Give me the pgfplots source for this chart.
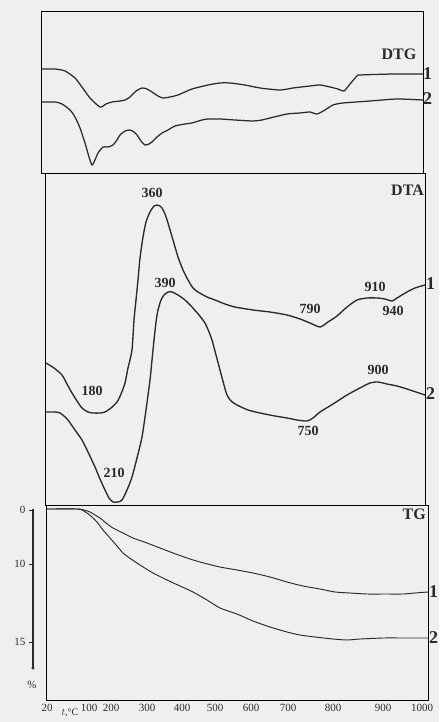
\documentclass[border=0pt]{standalone}
\usepackage{fontspec}
\setmainfont{Liberation Serif}
\usepackage{pgfplots}
\pgfplotsset{compat=1.18}
\definecolor{bg}{HTML}{EFEFEF}
\definecolor{ink}{HTML}{2A2A2A}
\pgfplotsset{
  panel/.style={x=1pt, y=1pt, ticks=none, clip=false, anchor=south west,
    axis line style={line width=0.9pt, black}},
  curve/.style={ink, line width=1.25pt, smooth, tension=0.4, mark=none},
}
\tikzset{
  pk/.style={font=\bfseries\fontsize{14}{15}\selectfont, inner sep=0pt, text=ink},
  ttl/.style={font=\bfseries\fontsize{16}{17}\selectfont, inner sep=0pt, text=ink},
  cn/.style={font=\bfseries\fontsize{18}{19}\selectfont, inner sep=0pt, anchor=west, text=ink},
}
\begin{document}
\begin{tikzpicture}
\useasboundingbox (0,0) rectangle (439pt,-722pt);
\fill[bg] (0,0) rectangle (439pt,-722pt);

% ---------------- DTG ----------------
\begin{axis}[panel, xmin=41, xmax=423, ymin=-173, ymax=-11, at={(41pt,-173pt)}]
\addplot[curve] coordinates {(42,-69)(55,-69)(65,-71)(75,-78)(82,-87)(90,-98)(100,-107)(106,-104)(112,-102)(120,-101)(125,-100)(130,-97)(136,-91)(142,-88)(147,-89)(152,-92)(158,-96)(163,-98)(170,-97)(178,-95)(192,-89)(208,-85)(220,-83)(230,-83)(245,-85)(260,-88)(280,-90)(293,-88)(310,-86)(320,-85)(330,-87)(338,-89)(344,-91)(350,-84)(357,-76)(360,-75)(393,-74)(423,-74)};
\addplot[curve] coordinates {(42,-102)(55,-102)(62,-104)(70,-110)(75,-117)(80,-128)(85,-143)(89,-157)(92,-165)(95,-160)(98,-153)(103,-147)(108,-147)(113,-145)(117,-140)(120,-135)(125,-131)(130,-130)(134,-132)(137,-135)(141,-141)(145,-145)(149,-144)(152,-142)(157,-137)(162,-133)(168,-130)(175,-126)(185,-124)(192,-123)(202,-120)(208,-119)(220,-119)(235,-120)(253,-121)(262,-120)(270,-118)(287,-114)(300,-113)(310,-112)(317,-114)(325,-110)(333,-105)(343,-103)(370,-101)(397,-99)(423,-100)};
\node[ttl] at (axis cs:399,-54) {DTG};
\node[cn] at (axis cs:423,-74) {1};
\node[cn] at (axis cs:423,-99) {2};
\end{axis}

% ---------------- DTA ----------------
\begin{axis}[panel, xmin=45, xmax=425, ymin=-505, ymax=-173, at={(45pt,-505pt)}]
\addplot[curve, line width=1.35pt] coordinates {(46,-363)(54,-368)(62,-375)(67,-384)(72,-393)(77,-401)(82,-408)(88,-412)(93,-413)(100,-413)(105,-412)(111,-408)(117,-402)(121,-394)(125,-383)(128,-368)(132,-350)(134,-320)(136,-300)(138,-280)(140,-258)(143,-237)(146,-222)(150,-212)(154,-206)(157,-205)(160,-206)(162,-208)(165,-214)(168,-223)(173,-240)(178,-257)(183,-270)(188,-280)(193,-288)(198,-292)(207,-297)(215,-300)(225,-304)(235,-307)(253,-310)(270,-312)(287,-315)(300,-319)(310,-323)(320,-327)(328,-322)(337,-316)(347,-307)(357,-300)(367,-298)(377,-298)(385,-299)(392,-301)(397,-298)(407,-292)(415,-288)(425,-285)};
\addplot[curve, line width=1.35pt] coordinates {(46,-412)(55,-412)(60,-413)(64,-416)(68,-420)(75,-430)(82,-440)(88,-452)(95,-467)(100,-479)(105,-490)(109,-498)(113,-502)(118,-502)(122,-500)(127,-490)(132,-477)(137,-458)(142,-437)(146,-410)(150,-380)(152,-360)(154,-340)(156,-322)(158,-310)(161,-300)(164,-295)(168,-292)(172,-292)(178,-295)(185,-300)(192,-307)(199,-315)(205,-323)(209,-332)(212,-340)(216,-355)(220,-370)(224,-385)(227,-395)(231,-401)(237,-405)(248,-410)(260,-413)(275,-416)(287,-418)(297,-420)(307,-421)(313,-418)(320,-412)(333,-404)(347,-395)(358,-389)(370,-383)(378,-382)(387,-384)(397,-386)(407,-389)(416,-392)(425,-395)};
\node[ttl, anchor=east] at (axis cs:424,-190) {DTA};
\node[pk] at (axis cs:152,-193) {360};
\node[pk] at (axis cs:165,-283) {390};
\node[pk] at (axis cs:92,-391) {180};
\node[pk] at (axis cs:114,-473) {210};
\node[pk] at (axis cs:310,-309) {790};
\node[pk] at (axis cs:375,-287) {910};
\node[pk] at (axis cs:393,-311) {940};
\node[pk] at (axis cs:378,-370) {900};
\node[pk] at (axis cs:308,-431) {750};
\node[cn] at (axis cs:426,-284) {1};
\node[cn] at (axis cs:426,-394) {2};
\end{axis}

% ---------------- TG ----------------
\begin{axis}[panel, xmin=46, xmax=428, ymin=-700, ymax=-505, at={(46pt,-700pt)},
  ticks=major, ytick=\empty, major tick length=0pt,
  xtick={47,89,111,147,182,215,251,288,333,383,422},
  xticklabels={20,100,200,300,400,500,600,700,800,900,1000},
  xticklabel style={font=\fontsize{11}{12}\selectfont, text=ink, yshift=-1pt}]
\addplot[curve, line width=0.95pt] coordinates {(47,-509)(77,-509)(84,-510)(90,-512)(95,-515)(100,-518)(106,-523)(113,-528)(123,-533)(133,-538)(147,-543)(160,-548)(173,-553)(187,-558)(200,-562)(220,-567)(237,-570)(253,-573)(270,-577)(287,-582)(303,-586)(320,-589)(335,-592)(350,-593)(367,-594)(385,-594)(403,-594)(415,-593)(428,-592)};
\addplot[curve, line width=0.95pt] coordinates {(47,-509)(77,-509)(82,-510)(87,-513)(92,-517)(97,-522)(103,-530)(110,-538)(117,-546)(123,-553)(131,-559)(140,-565)(153,-573)(167,-580)(180,-586)(193,-592)(207,-600)(220,-608)(237,-614)(253,-621)(270,-627)(287,-632)(300,-635)(315,-637)(333,-639)(347,-640)(360,-639)(383,-638)(405,-638)(428,-638)};
\node[ttl, anchor=east] at (axis cs:426,-514) {TG};
\node[cn] at (axis cs:429,-592) {1};
\node[cn] at (axis cs:429,-638) {2};
\node[font=\fontsize{10}{11}\selectfont, text=ink] at (axis cs:70,-713) {$t$,°C};
\end{axis}

% ---------------- left % scale ----------------
\begin{axis}[x=1pt, y=1pt, xmin=33, xmax=34, ymin=-668, ymax=-509,
  at={(33pt,-668pt)}, anchor=south west, clip=false,
  axis x line=none, axis y line*=left,
  y axis line style={line width=1.6pt, ink},
  ytick={-510,-564,-642}, yticklabels={0,10,15},
  tick align=outside, major tick length=4pt,
  tick style={line width=0.8pt, ink},
  yticklabel style={font=\fontsize{11}{12}\selectfont, text=ink}]
\addplot[only marks, mark=*, mark size=1.4pt, ink] coordinates {(33,-668)};
\node[font=\fontsize{11}{12}\selectfont, text=ink] at (axis cs:32,-685) {\%};
\end{axis}
\end{tikzpicture}
\end{document}
